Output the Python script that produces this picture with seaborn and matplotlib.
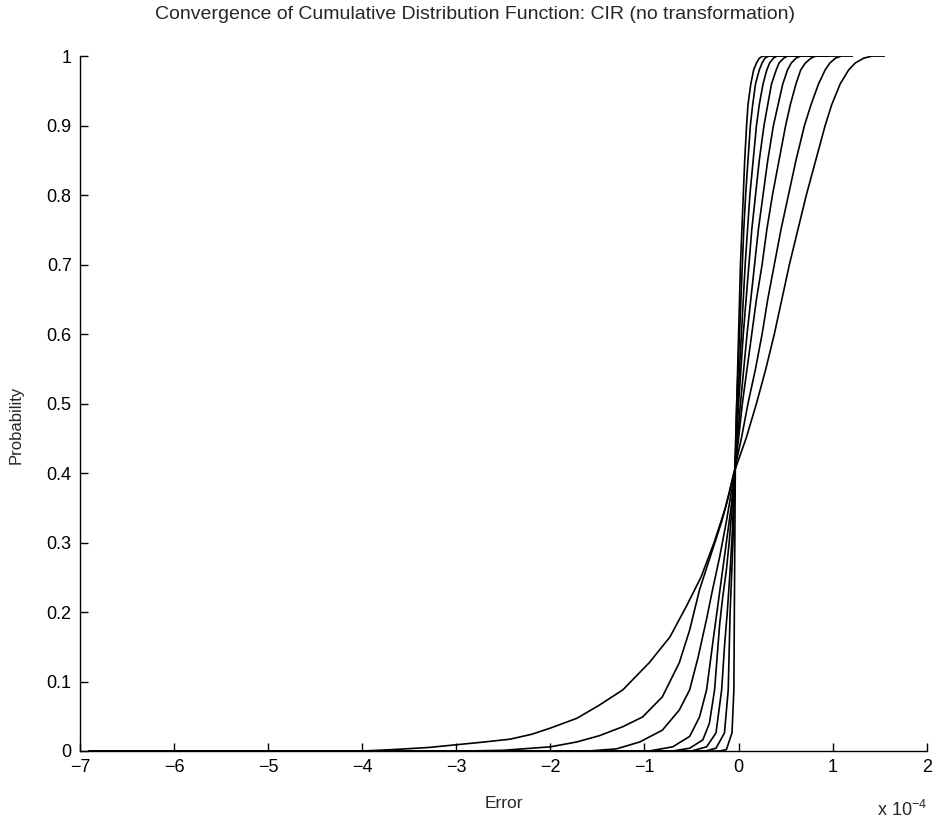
import pandas as pd
import seaborn as sns
import matplotlib.pyplot as plt

# error values (x 1e-4) and cumulative probability, read per curve (widest = 8)
x_8 = [-6.9, -4.0, -3.68, -3.3, -3.0, -2.7, -2.43, -2.2, -2.0, -1.72, -1.48, -1.23, -0.95,
       -0.73, -0.556, -0.4, -0.26, -0.14, -0.05, 0.08, 0.19, 0.29, 0.38, 0.46, 0.54, 0.63,
       0.72, 0.82, 0.92, 0.99, 1.08, 1.17, 1.24, 1.33, 1.42, 1.55]
p_8 = [0, 0, 0.002, 0.005, 0.009, 0.013, 0.017, 0.024, 0.033, 0.047, 0.066, 0.088, 0.127,
       0.164, 0.208, 0.25, 0.3, 0.35, 0.4, 0.45, 0.5, 0.55, 0.6, 0.65, 0.7, 0.75,
       0.8, 0.85, 0.9, 0.93, 0.96, 0.98, 0.99, 0.997, 1.0, 1.0]

x_7 = [-6.9, -2.9, -2.5, -2.0, -1.72, -1.48, -1.23, -1.02, -0.81, -0.63, -0.52, -0.415,
       -0.3, -0.18, -0.1, -0.05, 0.03, 0.1, 0.18, 0.25, 0.31, 0.38, 0.45, 0.53, 0.61, 0.7,
       0.77, 0.85, 0.92, 0.97, 1.03, 1.09, 1.21]
p_7 = [0, 0, 0.001, 0.006, 0.013, 0.022, 0.035, 0.049, 0.078, 0.127, 0.174, 0.232,
       0.28, 0.33, 0.37, 0.4, 0.45, 0.5, 0.55, 0.6, 0.65, 0.7, 0.75, 0.8, 0.85, 0.9,
       0.93, 0.96, 0.98, 0.99, 0.997, 1.0, 1.0]

x_6 = [-6.9, -1.6, -1.3, -1.05, -0.81, -0.63, -0.52, -0.43, -0.34, -0.28, -0.2, -0.13,
       -0.08, -0.04, 0.0, 0.04, 0.09, 0.14, 0.19, 0.25, 0.3, 0.36, 0.43, 0.5, 0.55, 0.61,
       0.66, 0.71, 0.77, 0.82, 1.05]
p_6 = [0, 0, 0.003, 0.013, 0.03, 0.059, 0.088, 0.135, 0.19, 0.23, 0.28, 0.33,
       0.37, 0.4, 0.45, 0.5, 0.55, 0.6, 0.65, 0.7, 0.75, 0.8, 0.85, 0.9, 0.93, 0.96,
       0.98, 0.99, 0.997, 1.0, 1.0]

x_5 = [-6.9, -0.95, -0.7, -0.52, -0.415, -0.34, -0.27, -0.23, -0.18, -0.13, -0.08, -0.04,
       -0.01, 0.02, 0.055, 0.09, 0.13, 0.17, 0.21, 0.26, 0.31, 0.37, 0.42, 0.47, 0.52,
       0.56, 0.61, 0.66, 0.95]
p_5 = [0, 0, 0.006, 0.021, 0.049, 0.088, 0.16, 0.2, 0.25, 0.3, 0.35, 0.4,
       0.45, 0.5, 0.55, 0.6, 0.65, 0.7, 0.75, 0.8, 0.85, 0.9, 0.93, 0.96, 0.98,
       0.99, 0.997, 1.0, 1.0]

x_4 = [-6.9, -0.7, -0.52, -0.38, -0.31, -0.255, -0.2, -0.17, -0.13, -0.1, -0.07, -0.04,
       -0.02, 0.0, 0.025, 0.05, 0.08, 0.11, 0.14, 0.18, 0.22, 0.27, 0.31, 0.35, 0.4,
       0.43, 0.48, 0.52, 0.9]
p_4 = [0, 0, 0.004, 0.016, 0.04, 0.088, 0.184, 0.22, 0.26, 0.3, 0.35, 0.4,
       0.45, 0.5, 0.55, 0.6, 0.65, 0.7, 0.75, 0.8, 0.85, 0.9, 0.93, 0.96, 0.98,
       0.99, 0.997, 1.0, 1.0]

x_3 = [-6.9, -0.5, -0.34, -0.24, -0.18, -0.15, -0.12, -0.09, -0.065, -0.04, -0.025, -0.01,
       0.01, 0.03, 0.05, 0.07, 0.095, 0.12, 0.155, 0.19, 0.22, 0.26, 0.3, 0.33, 0.37,
       0.41, 0.85]
p_3 = [0, 0, 0.006, 0.026, 0.088, 0.15, 0.2, 0.26, 0.32, 0.4, 0.45, 0.5,
       0.55, 0.6, 0.65, 0.7, 0.75, 0.8, 0.85, 0.9, 0.93, 0.96, 0.98, 0.99, 0.997,
       1.0, 1.0]

x_2 = [-6.9, -0.35, -0.24, -0.15, -0.11, -0.09, -0.06, -0.04, -0.03, -0.02, -0.005, 0.01,
       0.025, 0.04, 0.055, 0.075, 0.1, 0.125, 0.15, 0.18, 0.22, 0.25, 0.28, 0.32, 0.8]
p_2 = [0, 0, 0.004, 0.026, 0.088, 0.2, 0.3, 0.4, 0.45, 0.5, 0.55, 0.6,
       0.65, 0.7, 0.75, 0.8, 0.85, 0.9, 0.93, 0.96, 0.98, 0.99, 0.997, 1.0, 1.0]

x_1 = [-6.9, -0.2, -0.13, -0.07, -0.05, -0.045, -0.04, -0.035, -0.03, -0.02, -0.01, 0.0,
       0.01, 0.02, 0.035, 0.05, 0.065, 0.085, 0.1, 0.13, 0.16, 0.19, 0.22, 0.26, 0.75]
p_1 = [0, 0, 0.002, 0.026, 0.088, 0.2, 0.3, 0.4, 0.45, 0.5, 0.55, 0.6,
       0.65, 0.7, 0.75, 0.8, 0.85, 0.9, 0.93, 0.96, 0.98, 0.99, 0.997, 1.0, 1.0]

curves = [(x_1, p_1), (x_2, p_2), (x_3, p_3), (x_4, p_4),
          (x_5, p_5), (x_6, p_6), (x_7, p_7), (x_8, p_8)]

frames = []
for i, (xs, ps) in enumerate(curves, start=1):
    frames.append(pd.DataFrame({"Error": xs, "Probability": ps, "Curve": str(i)}))
df = pd.concat(frames, ignore_index=True)

sns.set_style("ticks", {"xtick.direction": "in", "ytick.direction": "in"})
plt.rcParams["font.family"] = ["Liberation Sans", "DejaVu Sans"]

fig = plt.figure(figsize=(9.38, 8.27), dpi=100)
ax = fig.add_axes([0.0853, 0.0919, 0.9027, 0.8403])

sns.lineplot(data=df, x="Error", y="Probability", hue="Curve", units="Curve",
             estimator=None, sort=False, palette=["black"] * 8, legend=False,
             linewidth=1.2, ax=ax)

ax.set_xlim(-7, 2)
ax.set_ylim(0, 1)
ax.set_xticks(range(-7, 3))
ax.set_xticklabels([str(t).replace("-", "\u2212") for t in range(-7, 3)])
ax.set_yticks([i / 10 for i in range(11)])
ax.set_yticklabels(["0"] + [f"0.{i}" for i in range(1, 10)] + ["1"])
ax.tick_params(direction="in", length=6, width=1, labelsize=13, colors="black", pad=6)
sns.despine(ax=ax, top=True, right=True)
for s in ["left", "bottom"]:
    ax.spines[s].set_linewidth(1)
    ax.spines[s].set_color("black")

ax.set_xlabel("Error", fontsize=12.5, labelpad=14)
ax.set_ylabel("Probability", fontsize=12)
ax.yaxis.set_label_coords(-0.067, 0.47)
fig.text(0.506, 0.983, "Convergence of Cumulative Distribution Function: CIR (no transformation)",
         ha="center", va="center", fontsize=14)
ax.text(1.0, -0.085, "x 10$^{\\mathregular{-4}}$", transform=ax.transAxes,
        ha="right", va="center", fontsize=13)

fig.savefig("out.png", dpi=100)
